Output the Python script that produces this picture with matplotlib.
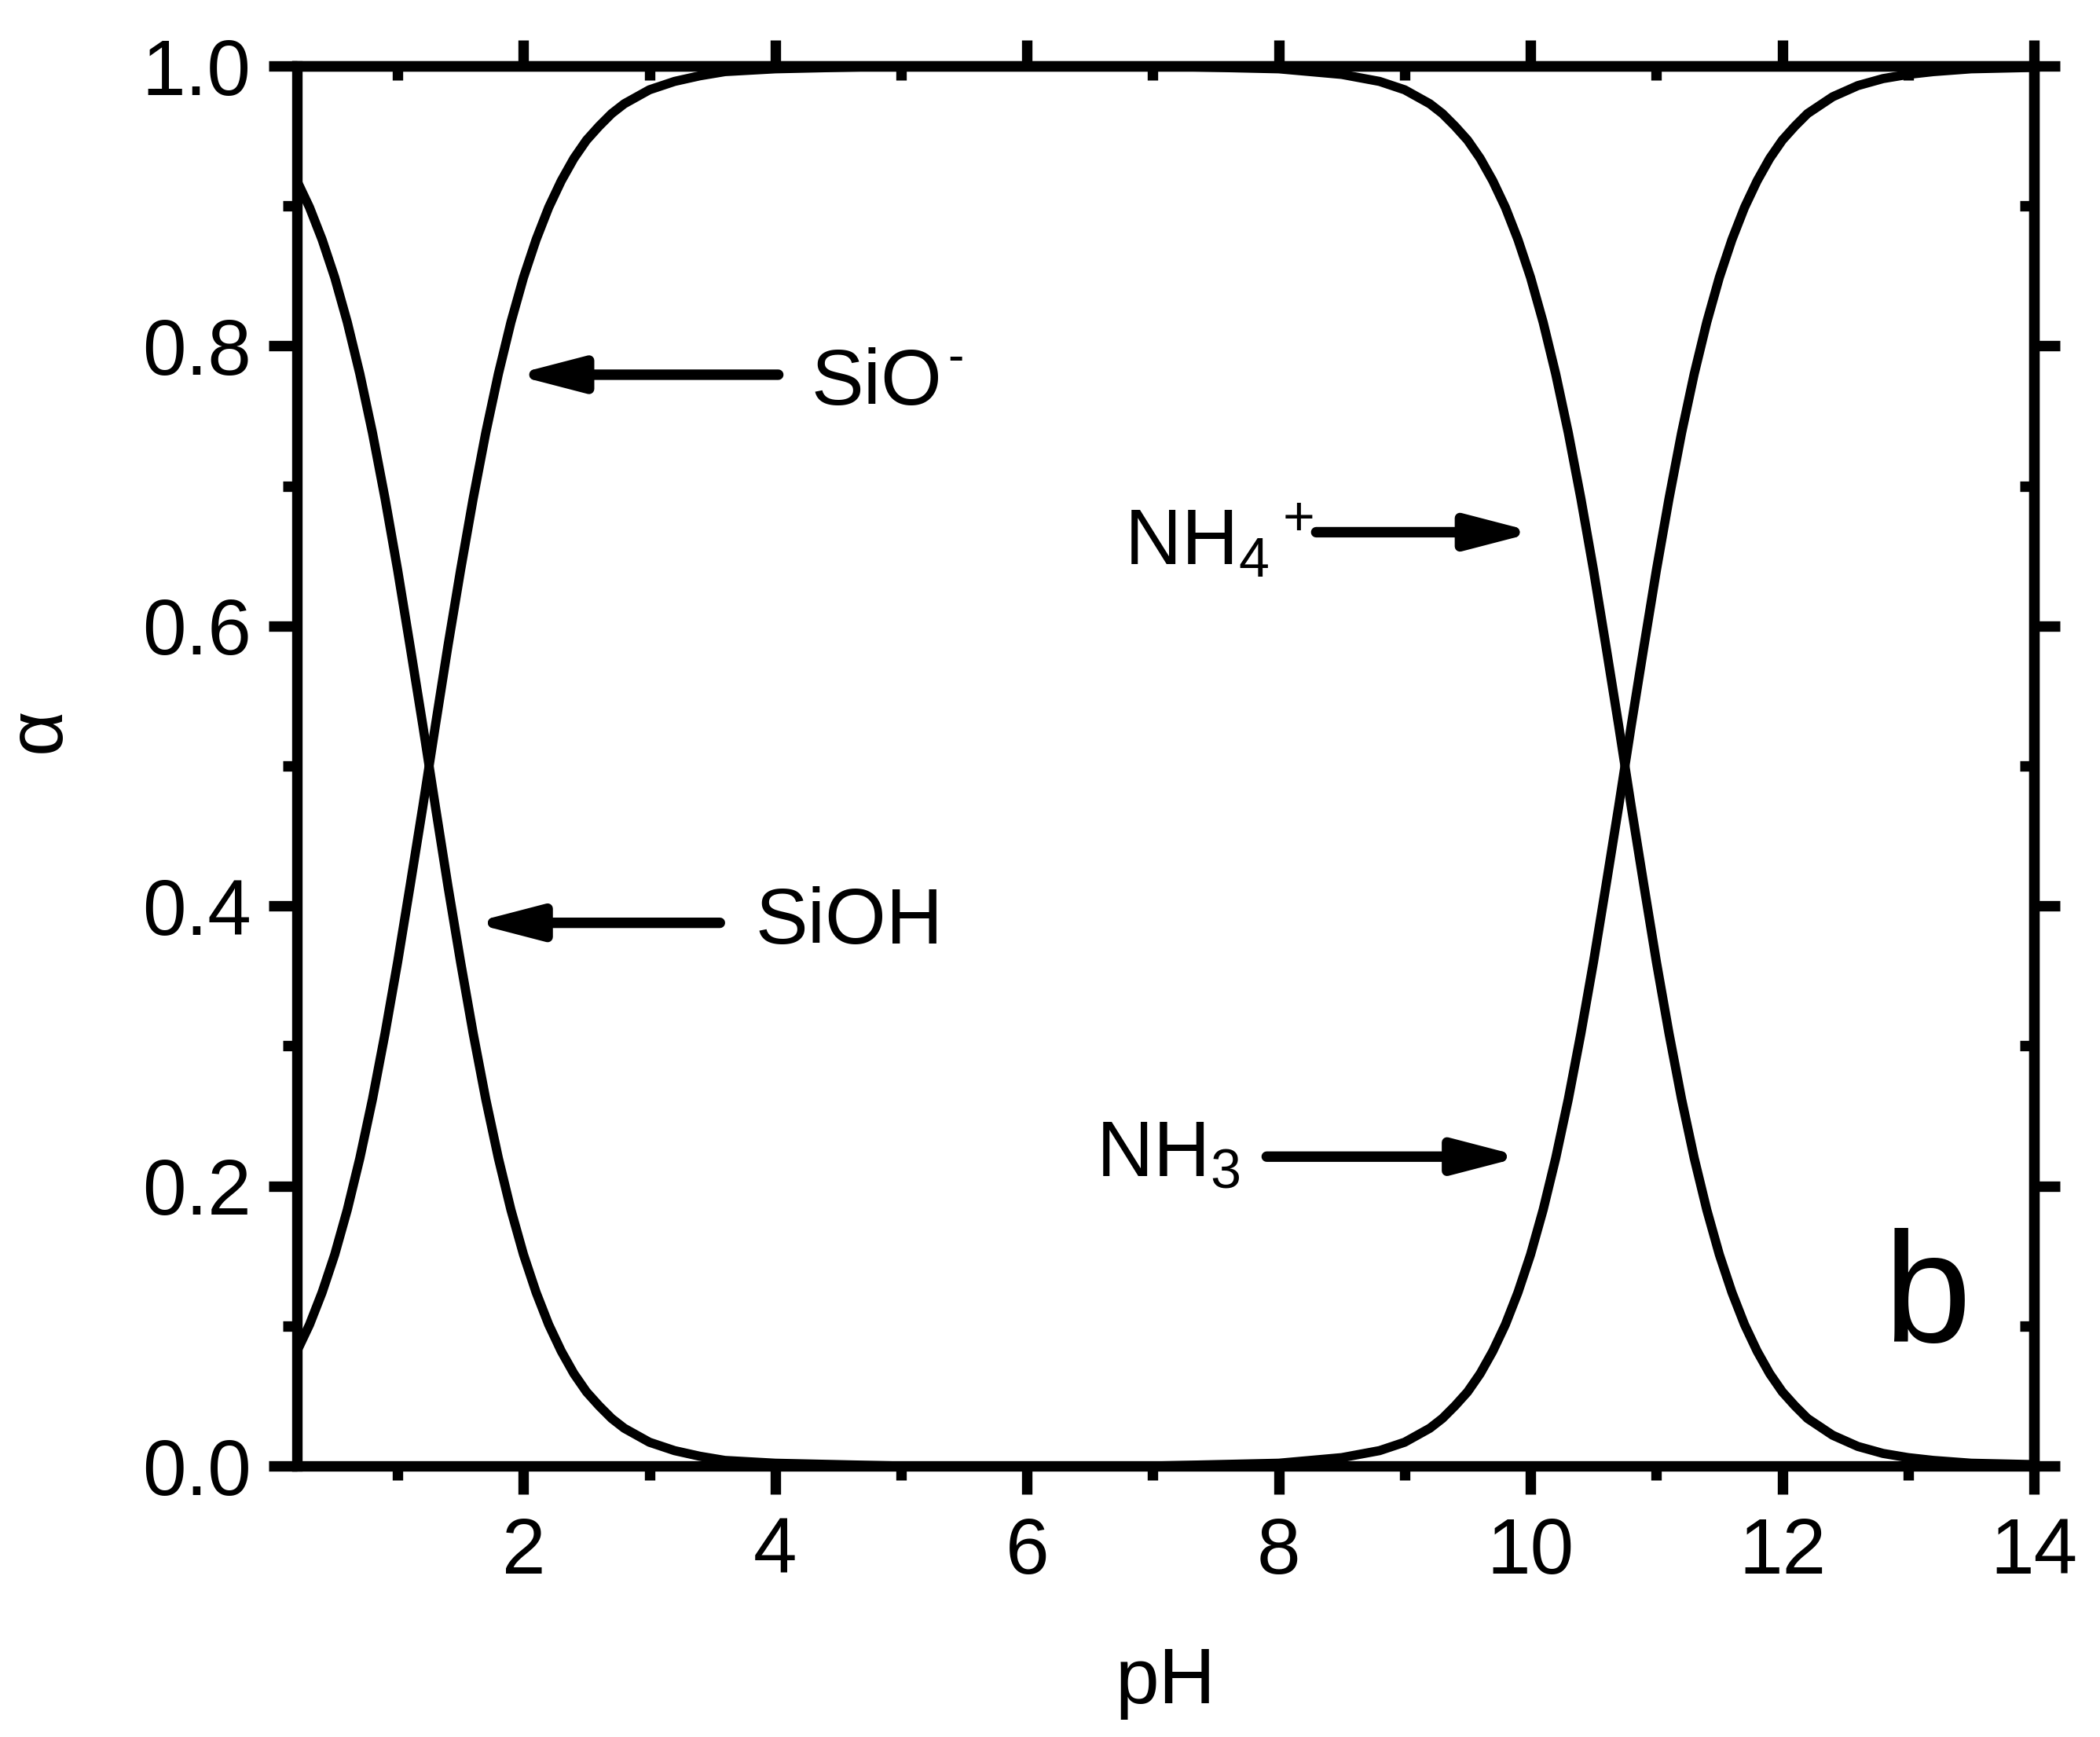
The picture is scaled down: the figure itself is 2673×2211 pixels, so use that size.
import numpy as np
import matplotlib
matplotlib.use("Agg")
from matplotlib import pyplot as plt
from matplotlib.ticker import FixedLocator

plt.rcParams['font.family'] = ['Liberation Sans', 'DejaVu Sans']
plt.rcParams['mathtext.default'] = 'regular'

# silanol pair
ph_si = [0.2, 0.3, 0.4, 0.5, 0.6, 0.7, 0.8, 0.9, 1.0, 1.1, 1.2, 1.3, 1.4,
         1.5, 1.6, 1.7, 1.8, 1.9, 2.0, 2.1, 2.2, 2.3, 2.4, 2.5, 2.6, 2.7,
         2.8, 2.9, 3.0, 3.2, 3.4, 3.6, 3.8, 4.0, 4.5, 5.0, 6.0, 14.0]
sioh = [0.918, 0.899, 0.876, 0.849, 0.817, 0.780, 0.738, 0.691, 0.640, 0.585,
        0.529, 0.471, 0.414, 0.360, 0.309, 0.262, 0.220, 0.183, 0.151, 0.124,
        0.101, 0.082, 0.066, 0.053, 0.043, 0.034,
        0.027, 0.022, 0.017, 0.011, 0.007, 0.004, 0.003, 0.002, 0.001, 0.0, 0.0, 0.0]
sio = [0.082, 0.101, 0.124, 0.151, 0.183, 0.220, 0.262, 0.309, 0.360, 0.415,
       0.471, 0.529, 0.586, 0.640, 0.691, 0.738, 0.780, 0.817, 0.849, 0.876,
       0.899, 0.918, 0.934, 0.947, 0.957, 0.966,
       0.973, 0.978, 0.983, 0.989, 0.993, 0.996, 0.997, 0.998, 0.999, 1.0, 1.0, 1.0]

# ammonium pair
ph_n = [0.2, 5.0, 7.0, 8.0, 8.5, 8.8, 9.0, 9.1, 9.2, 9.3, 9.4,
        9.5, 9.6, 9.7, 9.8, 9.9, 10.0, 10.1, 10.2, 10.3, 10.4, 10.5, 10.6,
        10.7, 10.8, 10.9, 11.0, 11.1, 11.2, 11.3, 11.4, 11.5, 11.6, 11.7,
        11.8, 11.9, 12.0, 12.1,
        12.2, 12.4, 12.6, 12.8, 13.0, 13.2, 13.5, 14.0]
nh4 = [1.0, 1.0, 1.0, 0.998, 0.994, 0.989, 0.983, 0.978, 0.973, 0.966, 0.957,
       0.947, 0.934, 0.918, 0.899, 0.876, 0.849, 0.817, 0.780, 0.738, 0.691,
       0.640, 0.585, 0.529, 0.471, 0.415, 0.360, 0.309, 0.262, 0.220, 0.183,
       0.151, 0.124, 0.101, 0.082, 0.066, 0.053, 0.043,
       0.034, 0.022, 0.014, 0.009, 0.006, 0.004, 0.002, 0.001]
nh3 = [0.0, 0.0, 0.0, 0.002, 0.006, 0.011, 0.017, 0.022, 0.027, 0.034, 0.043,
       0.053, 0.066, 0.082, 0.101, 0.124, 0.151, 0.183, 0.220, 0.262, 0.309,
       0.360, 0.415, 0.471, 0.529, 0.585, 0.640, 0.691, 0.738, 0.780, 0.817,
       0.849, 0.876, 0.899, 0.918, 0.934, 0.947, 0.957,
       0.966, 0.978, 0.986, 0.991, 0.994, 0.996, 0.998, 0.999]

x_major = [2, 4, 6, 8, 10, 12, 14]
x_minor = [1, 3, 5, 7, 9, 11, 13]
y_major = [0.0, 0.2, 0.4, 0.6, 0.8, 1.0]
y_minor = [0.1, 0.3, 0.5, 0.7, 0.9]

FS = 36
LW_AX = 4.8
LW_CURVE = 4.2

fig = plt.figure(figsize=(13.365, 11.055), dpi=200)
ax = fig.add_axes([0.1414, 0.1560, 0.8272, 0.8060])

for y in (sioh, sio):
    ax.plot(ph_si, y, color='black', lw=LW_CURVE, solid_joinstyle='round')
for y in (nh4, nh3):
    ax.plot(ph_n, y, color='black', lw=LW_CURVE, solid_joinstyle='round')

ax.set_xlim(0.2, 14)
ax.set_ylim(0, 1)
ax.set_xticks(x_major)
ax.set_xticks(x_minor, minor=True)
ax.set_yticks(y_major)
ax.set_yticks(y_minor, minor=True)
ax.set_yticklabels(['%.1f' % v for v in y_major])

for s in ax.spines.values():
    s.set_linewidth(LW_AX)

ax.tick_params(which='major', direction='out', length=13, width=LW_AX,
               labelsize=FS, top=False, right=False)
ax.tick_params(which='minor', direction='out', length=6.5, width=LW_AX,
               top=False, right=False)
ax.tick_params(axis='x', which='major', pad=10)
ax.tick_params(axis='y', which='major', pad=8)

# top and right: major ticks point out, minor ticks point in
top = ax.secondary_xaxis('top')
top.xaxis.set_major_locator(FixedLocator(x_major))
top.xaxis.set_minor_locator(FixedLocator(x_minor))
top.tick_params(which='major', direction='out', length=12, width=LW_AX, labeltop=False)
top.tick_params(which='minor', direction='in', length=6.5, width=LW_AX)
top.spines['top'].set_linewidth(LW_AX)

right = ax.secondary_yaxis('right')
right.yaxis.set_major_locator(FixedLocator(y_major))
right.yaxis.set_minor_locator(FixedLocator(y_minor))
right.tick_params(which='major', direction='out', length=12, width=LW_AX, labelright=False)
right.tick_params(which='minor', direction='in', length=6.5, width=LW_AX)
right.spines['right'].set_linewidth(LW_AX)

ax.set_xlabel('pH', fontsize=FS)
ax.xaxis.set_label_coords(0.5, -0.1285)
ax.set_ylabel('α', fontsize=FS, va='center')
ax.yaxis.set_label_coords(-0.1483, 0.526)

arrow = dict(arrowstyle='-|>,head_length=25,head_width=6.5', mutation_scale=1,
             lw=4.8, color='black', shrinkA=0, shrinkB=0)
ax.annotate('', xy=(1.922, 0.7795), xytext=(4.024, 0.7795), arrowprops=arrow)
ax.annotate('', xy=(1.593, 0.388), xytext=(3.56, 0.388), arrowprops=arrow)
ax.annotate('', xy=(10.038, 0.667), xytext=(8.297, 0.667), arrowprops=arrow)
ax.annotate('', xy=(9.935, 0.221), xytext=(7.904, 0.221), arrowprops=arrow)

ax.text(4.286, 0.758, 'SiO', fontsize=FS, ha='left', va='baseline')
ax.text(5.37, 0.7907, '-', fontsize=22, ha='left', va='center')
ax.text(3.843, 0.373, 'SiOH', fontsize=FS, ha='left', va='baseline')
ax.text(6.77, 0.644, r'NH$_4$$^+$', fontsize=FS, ha='left', va='baseline')
ax.text(6.545, 0.207, r'NH$_3$', fontsize=FS, ha='left', va='baseline')
ax.text(12.80, 0.0887, 'b', fontsize=72, ha='left', va='baseline')

fig.savefig('out.png', dpi=200)
